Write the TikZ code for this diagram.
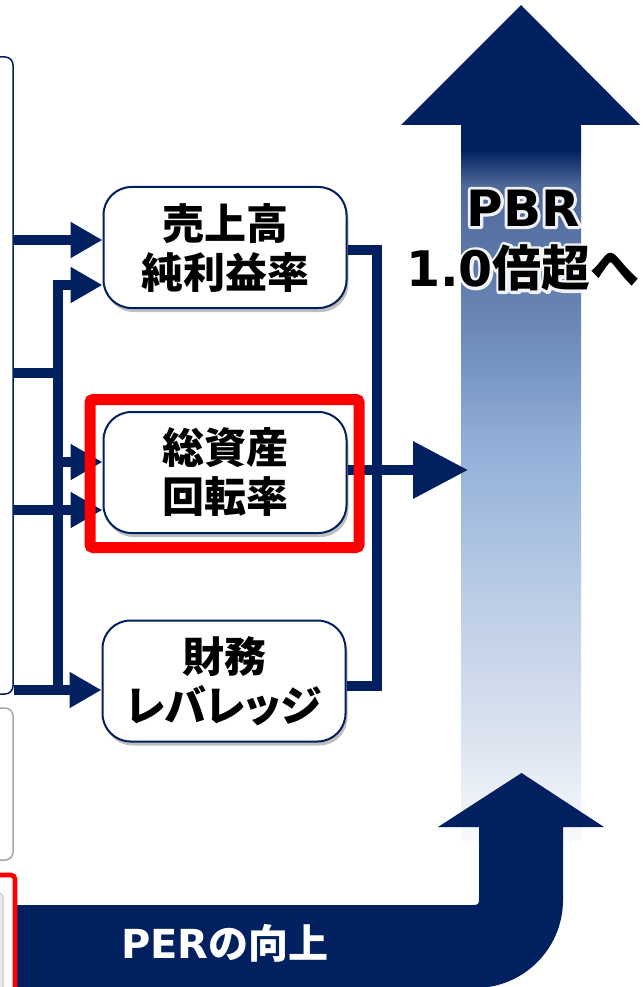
\documentclass[tikz,border=0pt]{standalone}
\usepackage{fontspec}
\newfontfamily\jp{Noto Sans CJK JP}
\newfontfamily\jpp[RawFeature=+palt]{Noto Sans CJK JP}
\newfontfamily\dv{DejaVu Sans}
\usetikzlibrary{arrows.meta,shadows}
\definecolor{navy}{HTML}{002060}
\definecolor{gA}{HTML}{4D6899}
\definecolor{gB}{HTML}{6C89B8}
\definecolor{gC}{HTML}{93B1D9}
\definecolor{gD}{HTML}{BCCDE6}
\definecolor{gE}{HTML}{DCE4F0}
\definecolor{gF}{HTML}{F8FAFD}
\definecolor{hired}{HTML}{FF0000}
\definecolor{greyline}{HTML}{A6A6A6}
\newcommand\haloed[1]{\special{pdf:literal direct 2 Tr 6 w 1 j 1 J}#1\special{pdf:literal direct 0 Tr}}
\begin{document}
\begin{tikzpicture}[x=1pt,y=-1pt,
  leftbox/.style={draw=navy,line width=1.5pt,fill=white,rounded corners=8pt,inner sep=0pt},
  kbox/.style={draw=navy,line width=2pt,fill=white,rounded corners=28pt,minimum width=243pt,minimum height=121pt,inner sep=0pt,align=center,font=\jp\bfseries\fontsize{42}{49}\selectfont},
  kshadow/.style={drop shadow={shadow xshift=2pt,shadow yshift=-4pt,opacity=0.25,fill=black}},
  conn/.style={draw=navy,line width=10pt,line join=miter},
  stip/.style={-{Triangle[length=32pt,width=34pt]}},
  btip/.style={-{Triangle[length=55pt,width=55pt]}},
  bigtxt/.style={font=\bfseries\fontsize{50}{60}\selectfont,inner sep=0pt},
  midtxt/.style={font=\bfseries\fontsize{49}{58}\selectfont,inner sep=0pt},
]
\useasboundingbox (0,0) rectangle (642,987);
\fill[white] (0,0) rectangle (642,987);

% ---- big upward PBR arrow: gradient shaft ----
\shade[top color=navy,bottom color=gA] (461,149.5) rectangle (581,185.5);
\shade[top color=gA,bottom color=gB] (461,185) rectangle (581,330.5);
\shade[top color=gB,bottom color=gC] (461,330) rectangle (581,450.5);
\shade[top color=gC,bottom color=gD] (461,450) rectangle (581,600.5);
\shade[top color=gD,bottom color=gE] (461,600) rectangle (581,740.5);
\shade[top color=gE,bottom color=gF] (461,740) rectangle (581,840);
\fill[navy] (401,125) -- (521,5) -- (640,125) -- (581,125) -- (581,150) -- (461,150) -- (461,125) -- cycle;

% ---- bottom PER arrow ----
\fill[navy] (10,905) -- (471,905) .. controls (479,905) .. (479,897) -- (479,827) -- (438,827)
  -- (521.5,773) -- (604,827) -- (563,827) -- (563,900)
  .. controls (563,948.6) and (523.6,988) .. (475,988) -- (475,995) -- (10,995) -- cycle;
\node[text=white,font=\bfseries\fontsize{40}{48}\selectfont,inner sep=0pt] (per) at (225,943) {{\dv PER}{\jp の向上}};

% ---- left column boxes ----
\node[leftbox,minimum width=43pt,minimum height=637pt] (L) at (-8.5,375.5) {};
\node[leftbox,draw=greyline,minimum width=43pt,minimum height=152pt] (G) at (-8.5,784) {};
\node[draw=hired,line width=4.6pt,rounded corners=4pt,fill=white,minimum width=45pt,minimum height=135pt,inner sep=0pt] (R) at (-7.5,942.5) {};
\node[draw=gray!45,fill=gray!18,line width=1pt,rounded corners=4pt,minimum width=33pt,minimum height=110pt,inner sep=0pt] (Ri) at (-13.5,948) {};

% ---- coordinates ----
\coordinate (barTop) at (58,285);
\coordinate (barBot) at (58,690);
\coordinate (rTop) at (377,250);
\coordinate (rBot) at (377,686);
\coordinate (pbrIn) at (468,470);

% ---- key boxes ----
\node[kbox,kshadow] (B1) at (225,247.5) {売上高\\純利益率};
\node[kbox,kshadow] (B2) at (225,472.5) {総資産\\回転率};
\node[kbox,kshadow] (B3) at (224,681) {財務\\{\jpp レバレッジ}};

% ---- left connectors ----
\draw[conn,stip] (L.east |- 0,240) -- (B1.west |- 0,240);
\draw[conn,stip] (barBot) -- (barTop) -- (B1.west |- barTop);
\draw[conn] (L.east |- 0,373) -- (barTop |- 0,373);
\draw[conn,stip] (barTop |- 0,462) -- (B2.west |- 0,462);
\draw[conn,stip] (L.east |- 0,510) -- (B2.west |- 0,510);
\draw[conn,stip] (L.east |- 0,690) -- (B3.west |- 0,690);

% ---- right connectors ----
\draw[conn] (B1.east |- rTop) -- (rTop) -- (rBot) -- (B3.east |- rBot);
\draw[conn,btip] (B2.east |- pbrIn) -- (pbrIn);

% ---- red highlight ----
\node[draw=hired,line width=11pt,rounded corners=3pt,minimum width=269pt,minimum height=148pt,inner sep=0pt] (H) at (224.5,473.5) {};

% ---- PBR label with white halo ----
\node[bigtxt,text=white,opacity=0.9] (hp) at (523,208) {\haloed{\dv PBR}};
\node[midtxt,text=white,opacity=0.9] (hq) at (523,268) {\haloed{{\dv 1.0}{\jp 倍超へ}}};
\node[bigtxt,text=black] (pbr) at (523,208) {\dv PBR};
\node[midtxt,text=black] (pbr2) at (523,268) {{\dv 1.0}{\jp 倍超へ}};
\end{tikzpicture}
\end{document}
